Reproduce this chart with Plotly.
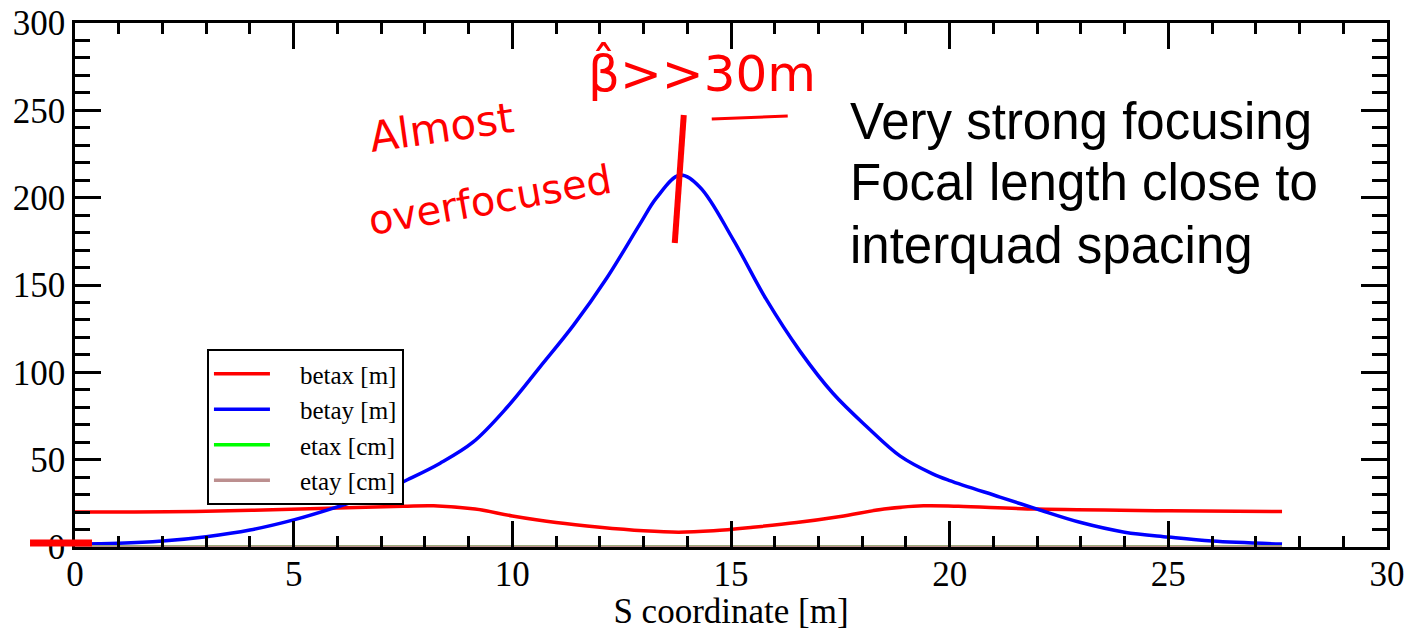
import plotly.graph_objects as go

# ---- data ----
s_betax = [0, 3, 6, 7.5, 8.2, 9.15, 10, 11, 12, 13, 13.8, 14.6, 15.5, 16.5, 17.5, 18.5, 19.4, 20.2, 22, 25, 27.6]
betax = [20, 20.5, 22.3, 23.3, 23.6, 21.7, 17.8, 14, 11.3, 9.3, 8.5, 9.3, 11.3, 14, 17.5, 21.7, 23.6, 23.3, 21.7, 20.8, 20.3]

s_betay = [0, 1, 2, 3, 4, 5, 6, 7, 7.6, 8.35, 9.1, 9.88, 10.63, 11.4, 12.16, 12.92, 13.3, 13.83,
           14.29, 15.05, 15.8, 16.58, 17.33, 18.1, 18.87, 19.6, 20.0, 21.15, 22, 23, 24, 25, 26, 27.6]
betay = [1.7, 2.1, 3.4, 5.9, 9.7, 15.5, 23, 31.5, 38.5, 48, 60, 80, 103, 127, 154, 185, 200, 213,
         206, 176, 142, 112, 88, 69, 52, 42, 38, 28.6, 21.7, 14, 8.5, 5.7, 3.4, 1.7]

s_eta = [0, 27.6]
etax = [0, 0]
etay = [0, 0]

series_names = ["betax [m]", "betay [m]", "etax [cm]", "etay [cm]"]
series_colors = ["#ff0000", "#0000ff", "#00ff00", "#bc8f8f"]

x_ticks = [0, 5, 10, 15, 20, 25, 30]
y_ticks = [0, 50, 100, 150, 200, 250, 300]

note_lines = ["Very strong focusing", "Focal length close to", "interquad spacing"]

serif = "Liberation Serif, Times New Roman, serif"
pad = "\u00a0\u00a0\u00a0\u00a0"

fig = go.Figure()
for xs, ys, name, col in zip([s_betax, s_betay, s_eta, s_eta], [betax, betay, etax, etay],
                             series_names, series_colors):
    fig.add_trace(go.Scatter(x=xs, y=ys, name=pad + name, mode="lines",
                             line=dict(color=col, width=3.5, shape="spline", smoothing=1.0)))

axis_common = dict(showgrid=False, zeroline=False, showline=True, linecolor="black", linewidth=2.5,
                   mirror="allticks", ticks="inside", tickwidth=2.5, tickcolor="black", automargin=False,
                   tickfont=dict(family=serif, size=35, color="black"))

fig.update_xaxes(range=[0, 30], tickvals=x_ticks, ticklen=26, ticklabelstandoff=-6,
                 minor=dict(dtick=1, ticks="inside", ticklen=11, tickwidth=2.5, tickcolor="black"),
                 title=dict(text="S coordinate [m]", font=dict(family=serif, size=35, color="black"), standoff=6),
                 **axis_common)
fig.update_yaxes(range=[0, 300], tickvals=y_ticks, ticklen=26,
                 minor=dict(dtick=10, ticks="inside", ticklen=15, tickwidth=2.5, tickcolor="black"),
                 **axis_common)

def px(xp):
    return (xp - 75) / 1312.5

def py(yp):
    return (547 - yp) / 524

fig.update_layout(
    width=1408, height=631,
    margin=dict(l=75, r=20.5, t=23, b=84),
    plot_bgcolor="white", paper_bgcolor="white",
    showlegend=True,
    legend=dict(x=px(207), y=py(349), xanchor="left", yanchor="top", itemwidth=56,
                bordercolor="black", borderwidth=2, bgcolor="white",
                font=dict(family=serif, size=25, color="black")),
)

# Typed annotation, one line each
for i, line in enumerate(note_lines):
    fig.add_annotation(xref="paper", yref="paper", x=px(848), y=py(121 + 62 * i),
                       xanchor="left", yanchor="middle", align="left", showarrow=False,
                       text=line,
                       font=dict(family="Liberation Sans, Arial, sans-serif", size=51, color="black"))

# Handwritten notes (red)
hand = dict(family="DejaVu Sans, sans-serif", color="#ff0000")
fig.add_annotation(xref="paper", yref="paper", x=px(442), y=py(128), xanchor="center", yanchor="middle",
                   showarrow=False, text="Almost", textangle=-8, font=dict(size=42, **hand))
fig.add_annotation(xref="paper", yref="paper", x=px(490), y=py(200), xanchor="center", yanchor="middle",
                   showarrow=False, text="overfocused", textangle=-10, font=dict(size=40, **hand))
fig.add_annotation(xref="paper", yref="paper", x=px(702), y=py(72), xanchor="center", yanchor="middle",
                   showarrow=False, text="β\u0302>>30m", font=dict(size=50, **hand))

fig.add_shape(type="line", xref="paper", yref="paper", x0=px(712), y0=py(119), x1=px(788), y1=py(116),
              line=dict(color="#ff0000", width=3))
fig.add_shape(type="line", xref="paper", yref="paper", x0=px(675), y0=py(243), x1=px(684), y1=py(115),
              line=dict(color="#ff0000", width=6))
fig.add_shape(type="line", xref="paper", yref="paper", x0=px(30), y0=py(543), x1=px(92), y1=py(543),
              line=dict(color="#ff0000", width=7))

fig.write_html("out.html")
